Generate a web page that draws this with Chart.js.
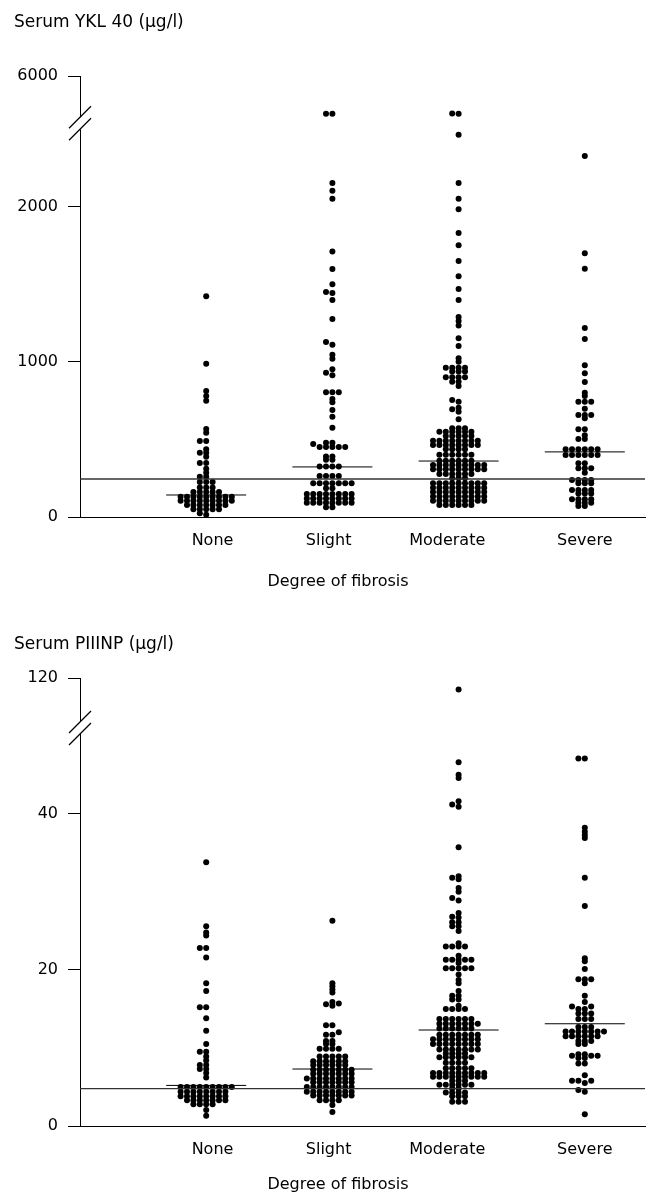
<!DOCTYPE html>
<html>
<head>
<meta charset="utf-8">
<script src="https://cdn.jsdelivr.net/npm/chart.js@4.4.1/dist/chart.umd.min.js"></script>
<style>
  html, body { margin: 0; padding: 0; background: #fff; }
  .panel { position: absolute; left: 0; width: 649px; }
  #p1 { top: 0; height: 600px; }
  #p2 { top: 600px; height: 594px; }
</style>
</head>
<body>
<div class="panel" id="p1"><canvas id="ykl"></canvas></div>
<div class="panel" id="p2"><canvas id="piiinp"></canvas></div>
<script>
const groups = ['None', 'Slight', 'Moderate', 'Severe'];

// Serum YKL-40 (ug/l)
const yklNone = [1424, 989, 813, 781, 750, 568, 544, 490, 490, 437, 415, 415, 389, 348, 348, 312, 286, 260, 260,
  226, 226, 226, 191, 191, 191, 161, 161, 161, 161, 161,
  131, 131, 131, 131, 131, 131, 131, 131, 131, 105, 105, 105, 105, 105, 105, 105, 105, 105,
  77, 77, 77, 77, 77, 77, 77, 50, 50, 50, 50, 50, 24, 14];
const yklSlight = [3230, 3230, 2155, 2105, 2053, 1712, 1600, 1501, 1452, 1445, 1400, 1277, 1129, 1112, 1047, 1021,
  953, 931, 914, 804, 804, 804, 761, 740, 690, 647, 576, 479, 479, 471, 452, 452, 452, 452, 452,
  390, 390, 370, 370, 325, 325, 325, 325, 265, 265, 265, 265, 217, 217, 217, 217, 217, 217, 217, 185, 185,
  148, 148, 148, 148, 148, 148, 148, 148, 120, 120, 120, 120, 120, 120, 120, 120,
  92, 92, 92, 92, 92, 92, 92, 92, 63, 63];
const yklModerate = [3230, 3250, 2466, 2155, 2053, 1985, 1832, 1753, 1652, 1553, 1471, 1400, 1290, 1265, 1235,
  1153, 1103, 1024, 1002, 963, 963, 963, 963, 938, 938, 938, 901, 901, 901, 901, 873, 873, 845,
  755, 744, 705, 695, 679, 630, 572, 572, 572, 550, 550, 550, 550, 550, 550, 523, 523, 523, 523, 523,
  492, 492, 492, 492, 492, 492, 492, 492, 465, 465, 465, 465, 465, 465, 465, 465, 437, 437, 437, 437,
  402, 402, 402, 402, 402, 402, 363, 363, 363, 363, 363, 363,
  335, 335, 335, 335, 335, 335, 335, 335, 335, 308, 308, 308, 308, 308, 308, 308, 308, 308,
  277, 277, 277, 277, 277, 277, 250, 250, 250,
  217, 217, 217, 217, 217, 217, 217, 217, 217, 189, 189, 189, 189, 189, 189, 189, 189, 189,
  161, 161, 161, 161, 161, 161, 161, 161, 161, 133, 133, 133, 133, 133, 133, 133, 133, 133,
  105, 105, 105, 105, 105, 105, 105, 105, 105, 77, 77, 77, 77, 77, 77];
const yklSevere = [2329, 1701, 1602, 1219, 1148, 979, 927, 871, 802, 781, 744, 744, 744, 699, 658, 658, 658, 637,
  566, 566, 527, 503, 503, 437, 437, 437, 437, 437, 437, 400, 400, 400, 400, 400, 400,
  346, 346, 314, 314, 314, 286, 239, 239, 239, 239, 217, 217, 217, 174, 174, 174, 174, 151, 151, 151,
  114, 114, 114, 114, 92, 92, 92, 71, 71];
const yklMedians = [142, 323, 361, 420];
const yklCutoff = 245;
const yklTicks = [0, 1000, 2000, 6000];

// Serum PIIINP (ug/l)
const pNone = [33.8, 25.6, 24.8, 24.4, 22.8, 22.8, 21.6, 18.3, 17.3, 15.2, 15.2, 13.8, 12.2, 10.5, 9.5, 9.5, 8.9, 8.4,
  7.8, 7.8, 7.3, 7.3, 6.8, 6.2, 5.0, 5.0, 5.0, 5.0, 5.0, 5.0, 5.0, 5.0, 5.0, 4.4, 4.4, 4.4, 4.4, 4.4, 4.4, 4.4, 4.4,
  3.8, 3.8, 3.8, 3.8, 3.8, 3.8, 3.8, 3.8, 3.3, 3.3, 3.3, 3.3, 3.3, 3.3, 3.3, 2.8, 2.8, 2.8, 2.8, 2.05, 1.3];
const pSlight = [26.3, 18.3, 17.9, 17.5, 17.1, 15.9, 15.7, 15.6, 15.4, 12.9, 12.9, 12.0, 11.7, 11.7, 10.9, 10.9, 10.5, 10.5,
  9.9, 9.9, 9.9, 9.9, 8.9, 8.9, 8.9, 8.9, 8.9, 8.3, 8.3, 8.3, 8.3, 8.3, 8.3, 7.8, 7.8, 7.8, 7.8, 7.8, 7.8,
  7.2, 7.2, 7.2, 7.2, 7.2, 7.2, 7.2, 6.7, 6.7, 6.7, 6.7, 6.7, 6.7, 6.7, 6.1, 6.1, 6.1, 6.1, 6.1, 6.1, 6.1, 6.1,
  5.6, 5.6, 5.6, 5.6, 5.6, 5.6, 5.6, 5.0, 5.0, 5.0, 5.0, 5.0, 5.0, 5.0, 5.0, 4.4, 4.4, 4.4, 4.4, 4.4, 4.4, 4.4, 4.4,
  3.9, 3.9, 3.9, 3.9, 3.9, 3.9, 3.9, 3.3, 3.3, 3.3, 3.3, 2.7, 1.8];
const pModerate = [104, 46.6, 45.0, 44.6, 41.6, 41.2, 40.9, 35.7, 32.0, 31.8, 31.6, 30.5, 30.0, 29.2, 28.9, 27.3, 26.8, 26.7,
  26.1, 26.1, 25.6, 25.6, 25.0, 23.4, 23.0, 23.0, 23.0, 23.0, 21.8, 21.3, 21.3, 21.3, 21.3, 21.3, 20.9,
  20.2, 20.2, 20.2, 20.2, 20.2, 19.4, 18.7, 18.3, 17.3, 16.7, 16.7, 16.2, 16.2, 15.4, 15.0, 15.0, 15.0, 15.0,
  13.7, 13.7, 13.7, 13.7, 13.7, 13.7, 13.1, 13.1, 13.1, 13.1, 13.1, 13.1, 13.1, 12.5, 12.5, 12.5, 12.5, 12.5, 12.5,
  11.7, 11.7, 11.7, 11.7, 11.7, 11.7, 11.7, 11.1, 11.1, 11.1, 11.1, 11.1, 11.1, 11.1, 11.1,
  10.5, 10.5, 10.5, 10.5, 10.5, 10.5, 10.5, 10.5, 9.8, 9.8, 9.8, 9.8, 9.8, 9.8, 9.8, 9.3, 9.3, 9.3, 9.3,
  8.8, 8.8, 8.8, 8.8, 8.8, 8.8, 8.1, 8.1, 8.1, 8.1, 7.4, 7.4, 7.4, 7.4, 7.4,
  6.8, 6.8, 6.8, 6.8, 6.8, 6.8, 6.8, 6.8, 6.8, 6.3, 6.3, 6.3, 6.3, 6.3, 6.3, 6.3, 6.3, 6.3,
  5.8, 5.8, 5.8, 5.3, 5.3, 5.3, 5.3, 5.3, 5.3, 4.8, 4.8, 4.3, 4.3, 4.3, 4.3, 3.8, 3.8, 3.8, 3.1, 3.1, 3.1];
const pSevere = [47.1, 47.1, 38.2, 37.7, 37.3, 36.9, 31.8, 28.2, 21.5, 21.1, 20.1, 18.8, 18.8, 18.8, 18.3, 16.7, 15.9,
  15.3, 15.3, 15.0, 15.0, 14.4, 14.4, 14.4, 13.7, 13.7, 13.7, 12.7, 12.7, 12.7,
  12.1, 12.1, 12.1, 12.1, 12.1, 12.1, 12.1, 11.5, 11.5, 11.5, 11.5, 11.5, 11.5, 10.9, 10.9, 10.9, 10.5, 10.5,
  9.2, 9.2, 9.0, 9.0, 9.0, 8.7, 8.7, 8.0, 8.0, 6.5, 5.8, 5.8, 5.8, 5.5, 4.6, 4.4, 1.5];
const pMedians = [5.2, 7.3, 12.3, 13.1];
const pCutoff = 4.8;
const pTicks = [0, 20, 40, 120];

const FONT = '16px "DejaVu Sans", sans-serif';
const TITLE_FONT = '17px "DejaVu Sans", sans-serif';
const X_MAX = 4.477;      // group spacing is one x unit
const COL_STEP = 6.4;     // px between swarm columns
const ROW_GAP = 3.0;      // px min vertical distance inside a column
const MED_HALF = 40;      // px half-length of median bars
const labelShift = [0.05, -0.03, -0.09, 0.0];

// draws the // marks and cuts the axis line
const breakMarks = {
  id: 'breakMarks',
  afterDraw(chart, args, o) {
    const ctx = chart.ctx;
    const x = chart.chartArea.left;
    const yb = chart.scales.y.getPixelForValue(o.at);
    ctx.save();
    ctx.fillStyle = '#fff';
    ctx.fillRect(x - 3, yb - 6, 6, 12);
    ctx.strokeStyle = '#000';
    ctx.lineWidth = 1.2;
    [-6, 6].forEach(d => {
      ctx.beginPath();
      ctx.moveTo(x - 11, yb + d + 11);
      ctx.lineTo(x + 11, yb + d - 11);
      ctx.stroke();
    });
    ctx.restore();
  }
};

const panelText = {
  id: 'panelText',
  afterDraw(chart, args, o) {
    const ctx = chart.ctx;
    ctx.save();
    ctx.fillStyle = '#000';
    ctx.textBaseline = 'alphabetic';
    ctx.font = TITLE_FONT;
    ctx.textAlign = 'left';
    ctx.fillText(o.title, o.titleX, o.titleY);
    ctx.font = FONT;
    ctx.textAlign = 'center';
    ctx.fillText(o.axisTitle, o.axisX, o.axisY);
    ctx.restore();
  }
};

function makePanel(id, cfg) {
  // values above the break are squeezed into the short top segment
  const toAxis = v => v <= cfg.breakAt ? v :
    cfg.breakAt + (v - cfg.breakAt) * (cfg.axisMax - cfg.breakAt) / (cfg.ticks[cfg.ticks.length - 1] - cfg.breakAt);

  const datasets = [];
  datasets.push({
    data: [{ x: 0, y: toAxis(cfg.cutoff) }, { x: X_MAX, y: toAxis(cfg.cutoff) }],
    showLine: true, borderColor: '#333', borderWidth: 1.3, pointRadius: 0
  });
  cfg.medians.forEach((m, i) => datasets.push({
    median: i + 1,
    data: [{ x: i + 1, y: toAxis(m) }, { x: i + 1, y: toAxis(m) }],
    showLine: true, borderColor: '#000', borderWidth: 1, pointRadius: 0
  }));
  cfg.series.forEach((vals, i) => datasets.push({
    swarm: i + 1,
    data: vals.map(v => ({ x: i + 1, y: toAxis(v) })),
    backgroundColor: '#000', borderWidth: 0, pointRadius: 3, pointHoverRadius: 3, clip: false
  }));

  const chart = new Chart(document.getElementById(id), {
    type: 'scatter',
    data: { datasets },
    options: {
      responsive: true,
      maintainAspectRatio: false,
      animation: false,
      events: [],
      layout: { padding: { top: cfg.padTop, right: 4, left: 0, bottom: 0 } },
      plugins: {
        legend: { display: false },
        tooltip: { enabled: false },
        breakMarks: { at: cfg.breakAt },
        panelText: cfg.text
      },
      scales: {
        x: {
          type: 'linear', min: 0, max: X_MAX,
          afterFit: s => { s.height = cfg.xHeight; },
          afterBuildTicks: s => { s.ticks = groups.map((g, i) => ({ value: i + 1 + labelShift[i] })); },
          ticks: { callback: (v, i) => groups[i], font: { family: 'DejaVu Sans', size: 16 }, color: '#000',
            padding: cfg.labelPad, maxRotation: 0, autoSkip: false },
          grid: { display: false, drawTicks: false },
          border: { display: true, color: '#000', width: 1 }
        },
        y: {
          min: 0, max: cfg.axisMax,
          afterFit: s => { s.width = 80; },
          afterBuildTicks: s => { s.ticks = cfg.ticks.map(v => ({ value: toAxis(v) })); },
          ticks: { callback: (v, i) => String(cfg.ticks[i]), font: { family: 'DejaVu Sans', size: 16 }, color: '#000', padding: 10 },
          grid: { display: true, drawOnChartArea: false, drawTicks: true, tickLength: 12, color: '#000', lineWidth: 1 },
          border: { display: true, color: '#000', width: 1 }
        }
      }
    },
    plugins: [breakMarks, panelText]
  });

  // beeswarm: columns 0, -1, +1, -2, +2 ... in pixel space
  const xs = chart.scales.x, ys = chart.scales.y;
  const pxPerUnit = (xs.right - xs.left) / (xs.max - xs.min);
  chart.data.datasets.forEach(ds => {
    if (ds.median) {
      const y = ds.data[0].y;
      ds.data = [{ x: ds.median - MED_HALF / pxPerUnit, y }, { x: ds.median + MED_HALF / pxPerUnit, y }];
    }
    if (!ds.swarm) return;
    const pts = ds.data.map(p => ({ x: p.x, y: p.y })).sort((a, b) => a.y - b.y);
    const cols = {};
    pts.forEach(p => {
      const py = ys.getPixelForValue(p.y);
      for (let k = 0; k < 60; k++) {
        const c = k === 0 ? 0 : (k % 2 ? -(k + 1) / 2 : k / 2);
        const used = cols[c] || (cols[c] = []);
        if (used.every(q => Math.abs(q - py) >= ROW_GAP)) {
          used.push(py);
          p.x = ds.swarm + c * COL_STEP / pxPerUnit;
          break;
        }
      }
    });
    ds.data = pts;
  });
  chart.update('none');
  return chart;
}

makePanel('ykl', {
  series: [yklNone, yklSlight, yklModerate, yklSevere],
  medians: yklMedians, cutoff: yklCutoff, ticks: yklTicks,
  breakAt: 2540, axisMax: 2845,
  padTop: 76, xHeight: 83, labelPad: 14,
  text: { title: 'Serum YKL 40 (\u03bcg/l)', titleX: 14, titleY: 27, axisTitle: 'Degree of fibrosis', axisX: 338, axisY: 586 }
});

makePanel('piiinp', {
  series: [pNone, pSlight, pModerate, pSevere],
  medians: pMedians, cutoff: pCutoff, ticks: pTicks,
  breakAt: 51, axisMax: 57.4,
  padTop: 78, xHeight: 68, labelPad: 14,
  text: { title: 'Serum PIIINP (\u03bcg/l)', titleX: 14, titleY: 49, axisTitle: 'Degree of fibrosis', axisX: 338, axisY: 589 }
});
</script>
</body>
</html>
